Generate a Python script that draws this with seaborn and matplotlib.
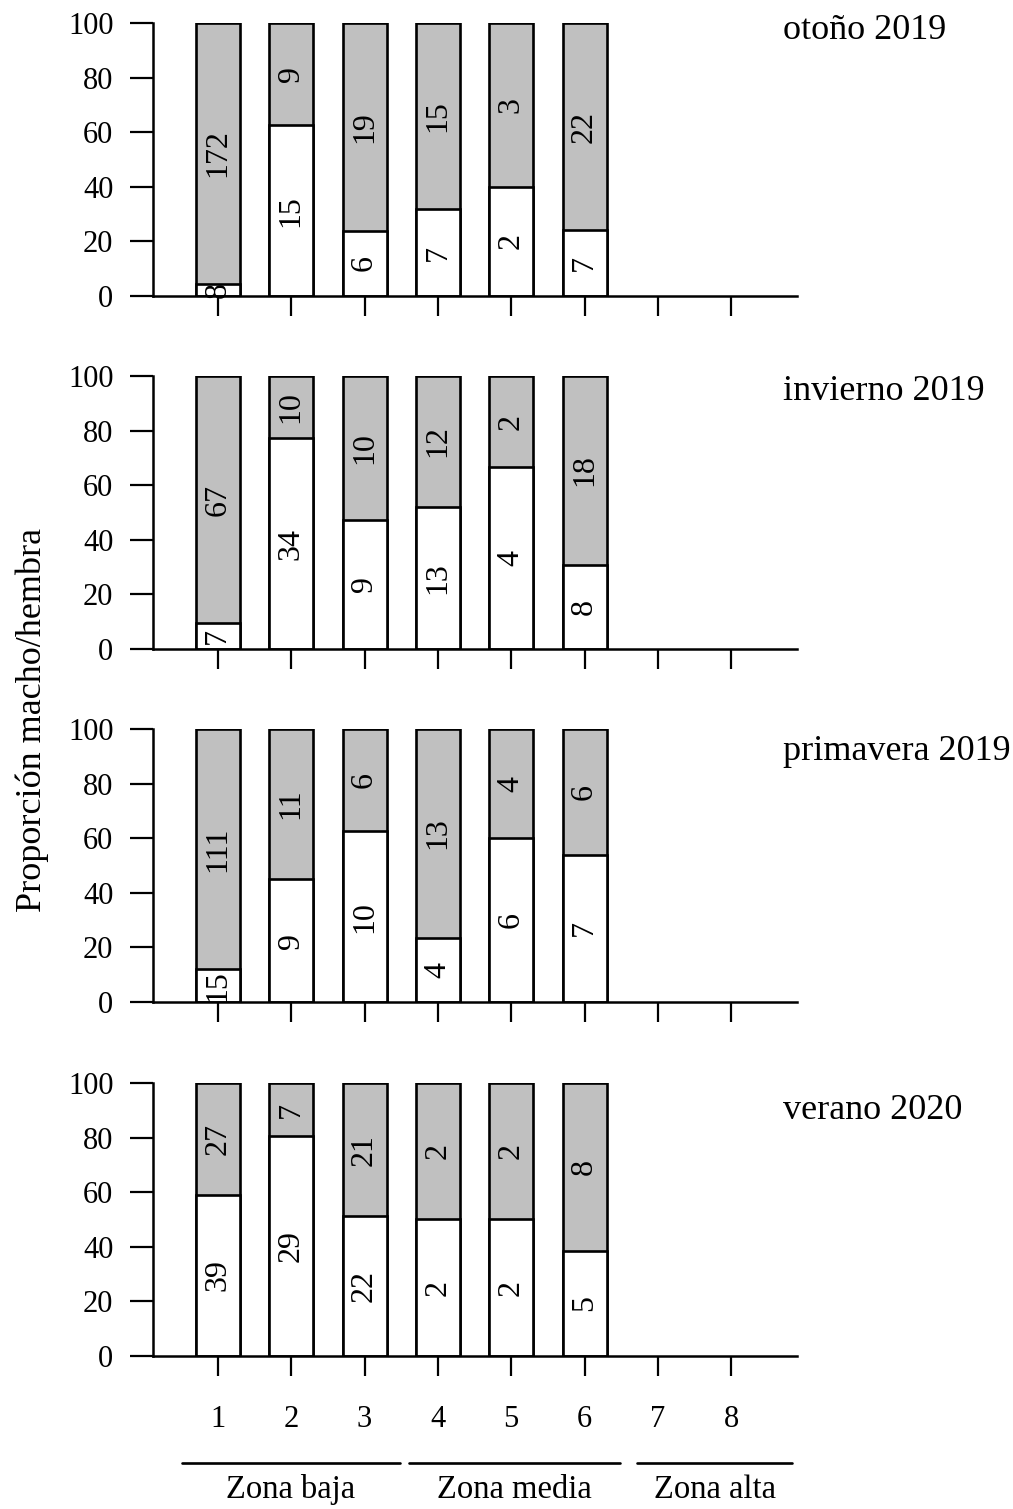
import matplotlib
matplotlib.use("Agg")
import matplotlib.pyplot as plt
import matplotlib.transforms as mtransforms
import numpy as np
import pandas as pd
import seaborn as sns

# Sampling sites along the river
sites = ["1", "2", "3", "4", "5", "6", "7", "8"]

# Seasons shown, top to bottom
seasons = ["otoño 2019", "invierno 2019", "primavera 2019", "verano 2020"]

# Counts of males (white) and females (grey) per site, sites 1-6 sampled
males_otono = [8, 15, 6, 7, 2, 7]
females_otono = [172, 9, 19, 15, 3, 22]
males_invierno = [7, 34, 9, 13, 4, 8]
females_invierno = [67, 10, 10, 12, 2, 18]
males_primavera = [15, 9, 10, 4, 6, 7]
females_primavera = [111, 11, 6, 13, 4, 6]
males_verano = [39, 29, 22, 2, 2, 5]
females_verano = [27, 7, 21, 2, 2, 8]

males = [males_otono, males_invierno, males_primavera, males_verano]
females = [females_otono, females_invierno, females_primavera, females_verano]

# Altitudinal zones grouping the sites
zone_names = ["Zona baja", "Zona media", "Zona alta"]
zone_spans = [(-0.49, 2.48), (2.6, 5.48), (5.72, 7.83)]

sns.set_style("ticks")
plt.rcParams["font.family"] = ["Liberation Serif", "DejaVu Serif"]
plt.rcParams["axes.linewidth"] = 1.8
plt.rcParams["text.color"] = "black"
plt.rcParams["axes.labelcolor"] = "black"
plt.rcParams["xtick.color"] = "black"
plt.rcParams["ytick.color"] = "black"

fig = plt.figure(figsize=(10.13, 15.09), dpi=100)

left, width, height = 0.151, 0.636, 0.1809
bottoms = [0.8038, 0.5699, 0.3360, 0.1014]
title_y = [0.972, 0.945, 0.918, 0.9]

GREY = "#c0c0c0"
EDGE_W = 1.9
axes = []
for k, season in enumerate(seasons):
    ax = fig.add_axes([left, bottoms[k], width, height])
    axes.append(ax)
    m = np.array(males[k], dtype=float)
    f = np.array(females[k], dtype=float)
    pct_m = 100 * m / (m + f)
    n = len(m)
    df = pd.DataFrame({
        "sitio": sites[:n],
        "total": np.full(n, 100.0),
        "machos": pct_m,
    })
    sns.barplot(data=df, x="sitio", y="total", order=sites, color=GREY,
                saturation=1, width=0.6, edgecolor="black", linewidth=EDGE_W,
                ax=ax)
    sns.barplot(data=df, x="sitio", y="machos", order=sites, color="white",
                saturation=1, width=0.6, edgecolor="black", linewidth=EDGE_W,
                ax=ax)

    for i in range(n):
        ax.text(i, pct_m[i] / 2, f"{int(m[i])}", rotation=90,
                ha="center", va="center", fontsize=23)
        ax.text(i, pct_m[i] + (100 - pct_m[i]) / 2, f"{int(f[i])}",
                rotation=90, ha="center", va="center", fontsize=23)

    ax.set_xlim(-0.885, 7.9)
    ax.set_ylim(0, 100)
    ax.set_yticks([0, 20, 40, 60, 80, 100])
    ax.set_xticks(range(len(sites)))
    ax.set_xlabel("")
    ax.set_ylabel("")
    for side in ("top", "right"):
        ax.spines[side].set_visible(False)
    ax.spines["left"].set_color("black")
    ax.spines["bottom"].set_color("black")
    ax.tick_params(axis="y", length=16.5, width=1.6, pad=12,
                   labelsize=22, colors="black")
    ax.tick_params(axis="x", length=14.5, width=1.6, pad=21,
                   labelsize=22, colors="black")
    if k < len(seasons) - 1:
        ax.set_xticklabels([])
    else:
        ax.set_xticklabels(sites)

    ax.text(0.978, title_y[k], season, transform=ax.transAxes,
            ha="left", va="center", fontsize=26)

# Zone brackets under the site numbers
ax = axes[-1]
trans = mtransforms.blended_transform_factory(ax.transData, ax.transAxes)
for name, (x0, x1) in zip(zone_names, zone_spans):
    ax.plot([x0, x1], [-0.392, -0.392], color="black", lw=1.9,
            transform=trans, clip_on=False)
    ax.text((x0 + x1) / 2, -0.49, name, transform=trans,
            ha="center", va="center", fontsize=23.5)

fig.text(0.032, 0.523, "Proporción macho/hembra", rotation=90,
         ha="center", va="center", fontsize=26)

fig.savefig("out.png", dpi=100, facecolor="white")
